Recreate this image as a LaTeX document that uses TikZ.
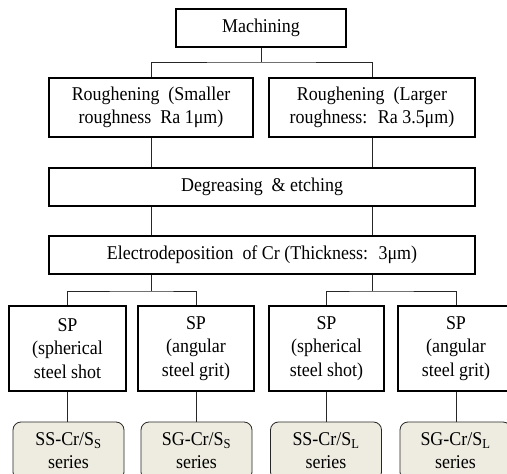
\documentclass[tikz,border=0pt]{standalone}
\usepackage{fontspec}
\setmainfont[FakeStretch=0.92]{Liberation Serif}
\definecolor{seriesfill}{RGB}{238,236,225}
\tikzset{
  x=1pt, y=-1pt,
  box/.style={draw=black, line width=1.6pt, align=center, inner sep=0pt,
    font=\fontsize{19.5}{23.5}\selectfont},
  serbox/.style={draw=black!85, line width=0.8pt, rounded corners=8pt, fill=seriesfill,
    align=center, inner sep=0pt, minimum width=111pt, minimum height=58pt,
    font=\fontsize{19.5}{23}\selectfont},
  conn/.style={draw=black!85, line width=0.8pt}
}
\begin{document}
\begin{tikzpicture}
\useasboundingbox (0,0) rectangle (507,474);
\clip (0,0) rectangle (507,474);
\fill[white] (0,0) rectangle (507,474);

\node[box, minimum width=170pt, minimum height=38pt] (mach) at (261,28) {Machining};
\node[box, minimum width=204pt, minimum height=59pt] (rl) at (151,107.5) {Roughening \ (Smaller\\roughness \ Ra 1μm)};
\node[box, minimum width=206pt, minimum height=59pt] (rr) at (372,107.5) {Roughening \ (Larger\\roughness: \ Ra 3.5μm)};
\node[box, minimum width=426pt, minimum height=38pt] (deg) at (262,187) {Degreasing \ \& etching};
\node[box, minimum width=426pt, minimum height=38pt] (el) at (262,255) {Electrodeposition \ of Cr (Thickness: \ 3μm)};

\node[box, minimum width=117pt, minimum height=85pt] (sp1) at (67.5,348.5) {SP\\(spherical\\steel shot};
\node[box, minimum width=116pt, minimum height=85pt] (sp2) at (196,348.5) {SP\\(angular\\steel grit)};
\node[box, minimum width=115pt, minimum height=85pt] (sp3) at (326.5,348.5) {SP\\(spherical\\steel shot)};
\node[box, minimum width=116pt, minimum height=85pt] (sp4) at (456,348.5) {SP\\(angular\\steel grit)};

\node[serbox] (s1) at (68.5,451) {SS-Cr/S\textsubscript{S}\\series};
\node[serbox] (s2) at (196.5,451) {SG-Cr/S\textsubscript{S}\\series};
\node[serbox] (s3) at (326,451) {SS-Cr/S\textsubscript{L}\\series};
\node[serbox] (s4) at (455.5,451) {SG-Cr/S\textsubscript{L}\\series};

\coordinate (j1) at (261,62);
\coordinate (j2) at (151,291);
\coordinate (j3) at (372,291);

\draw[conn] (mach.south) -- (j1);
\draw[conn] (rl.north) |- (j1) -| (rr.north);
\draw[conn] (rl.south) -- (rl.south |- deg.north);
\draw[conn] (rr.south) -- (rr.south |- deg.north);
\draw[conn] (deg.south -| rl.south) -- (el.north -| rl.south);
\draw[conn] (deg.south -| rr.south) -- (el.north -| rr.south);
\draw[conn] (el.south -| j2) -- (j2);
\draw[conn] (el.south -| j3) -- (j3);
\draw[conn] (sp1.north) |- (j2) -| (sp2.north);
\draw[conn] (sp3.north) |- (j3) -| (sp4.north);
\draw[conn] (sp1.south) -- (s1.north -| sp1.south);
\draw[conn] (sp2.south) -- (s2.north -| sp2.south);
\draw[conn] (sp3.south) -- (s3.north -| sp3.south);
\draw[conn] (sp4.south) -- (s4.north -| sp4.south);
\end{tikzpicture}
\end{document}
